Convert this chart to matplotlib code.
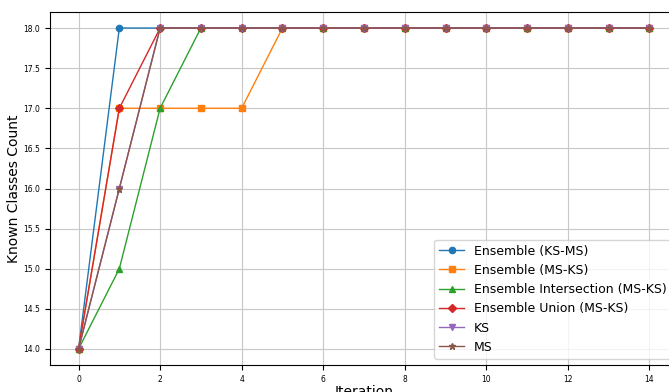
import matplotlib
matplotlib.use("Agg")
import matplotlib.pyplot as plt

iterations = list(range(15))
ens_ks_ms = [14, 18, 18, 18, 18, 18, 18, 18, 18, 18, 18, 18, 18, 18, 18]
ens_ms_ks = [14, 17, 17, 17, 17, 18, 18, 18, 18, 18, 18, 18, 18, 18, 18]
ens_inter = [14, 15, 17, 18, 18, 18, 18, 18, 18, 18, 18, 18, 18, 18, 18]
ens_union = [14, 17, 18, 18, 18, 18, 18, 18, 18, 18, 18, 18, 18, 18, 18]
ks = [14, 16, 18, 18, 18, 18, 18, 18, 18, 18, 18, 18, 18, 18, 18]
ms = [14, 16, 18, 18, 18, 18, 18, 18, 18, 18, 18, 18, 18, 18, 18]

series = [
    ("Ensemble (KS-MS)", ens_ks_ms, "o"),
    ("Ensemble (MS-KS)", ens_ms_ks, "s"),
    ("Ensemble Intersection (MS-KS)", ens_inter, "^"),
    ("Ensemble Union (MS-KS)", ens_union, "D"),
    ("KS", ks, "v"),
    ("MS", ms, "*"),
]

dpi = 100
fig = plt.figure(figsize=(6.69, 3.92), dpi=dpi)
ax = fig.add_axes([50 / 669, 27 / 392, 628 / 669, 353 / 392])
for label, vals, m in series:
    ax.plot(iterations, vals, marker=m, label=label, linewidth=1.0, markersize=4.5)

ax.grid(True, color="#c8c8c8", linewidth=0.8)
ax.set_xticks(range(0, 15, 2))
ax.tick_params(labelsize=5.5)
ax.set_xlabel("Iteration", fontsize=10, labelpad=1)
ax.set_ylabel("Known Classes Count", fontsize=10, labelpad=2)
ax.legend(loc="lower right", fontsize=9)
fig.savefig("out.png", dpi=dpi)
